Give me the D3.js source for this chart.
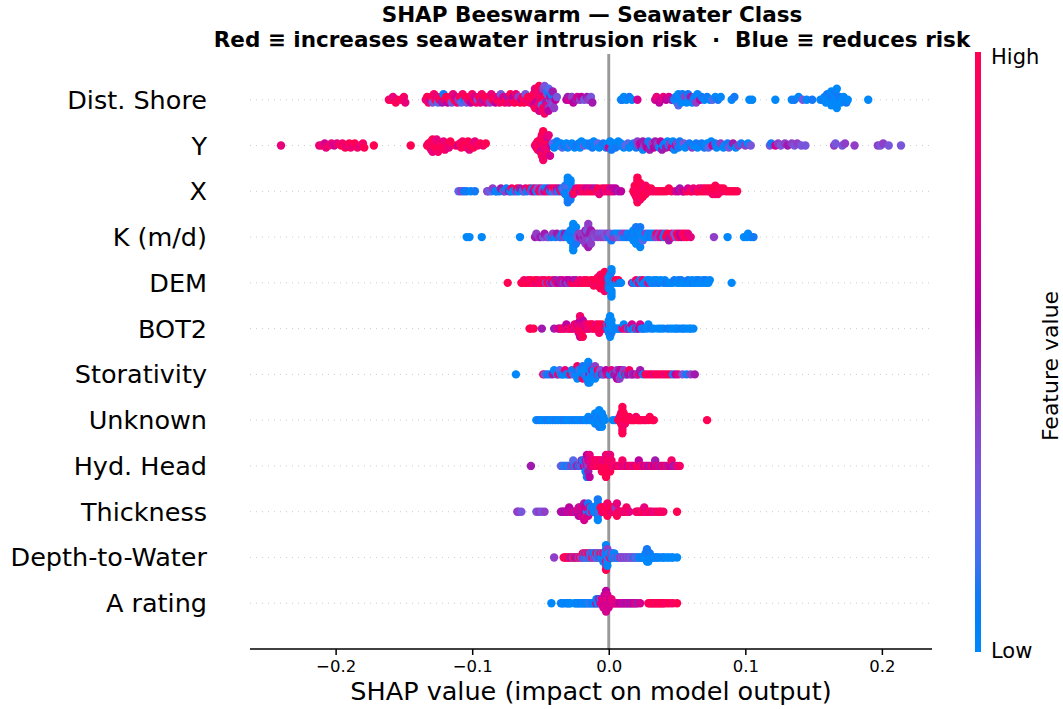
<!DOCTYPE html>
<html>
<head>
<meta charset="utf-8">
<script src="https://cdn.jsdelivr.net/npm/d3@7"></script>
<style>
  body { margin: 0; background: #fff; }
  text { font-family: "DejaVu Sans", sans-serif; fill: #000; }
</style>
</head>
<body>
<svg id="chart" width="1063" height="709"></svg>
<script>
// Feature names, top to bottom
const features = ["Dist. Shore", "Y", "X", "K (m/d)", "DEM", "BOT2", "Storativity",
  "Unknown", "Hyd. Head", "Thickness", "Depth-to-Water", "A rating"];

// Samples per feature: [SHAP value x 1000, feature level 0 (low) .. 10 (high)]
const distShore = [[-161,9],[-159,10],[-158,8],[-156,10],[-155,9],[-152,10],[-150,9],[-149,8],
  [-134,8],[-133,10],[-132,9],[-131,7],[-130,10],[-129,3],[-128,9],[-127,10],[-126,8],[-125,2],[-124,9],[-123,10],
  [-122,5],[-121,1],[-120,9],[-119,10],[-118,6],[-117,9],[-116,10],[-115,3],[-114,8],[-113,10],[-112,7],[-111,9],
  [-110,4],[-109,10],[-108,2],[-107,9],[-106,1],[-105,10],[-104,3],[-103,8],[-102,10],[-101,6],[-100,9],[-99,10],
  [-98,7],[-97,9],[-96,3],[-95,10],[-94,8],[-93,9],[-92,5],[-91,10],[-90,7],[-89,9],[-88,10],[-87,4],[-86,8],
  [-85,10],[-84,9],[-83,6],[-82,10],[-81,8],[-80,9],[-79,3],[-78,10],[-77,7],[-76,9],[-75,10],[-74,5],[-73,8],
  [-72,10],[-71,9],[-70,6],[-69,10],[-68,8],[-67,9],[-66,4],[-65,10],[-64,7],[-63,9],[-62,10],[-61,3],[-60,8],
  [-59,10],[-58,9],[-57,10],
  [-56,10],[-56,9],[-55,10],[-55,7],[-54,9],[-54,10],[-54,8],[-53,10],[-53,9],[-53,6],[-52,10],[-52,8],[-52,9],
  [-51,10],[-51,9],[-51,7],[-51,10],[-50,10],[-50,8],[-50,9],[-49,10],[-49,2],[-49,8],[-48,10],[-48,4],[-48,9],
  [-47,3],[-47,9],[-46,2],[-46,10],[-46,5],[-45,3],[-45,8],[-45,1],[-44,4],[-44,2],[-44,6],[-43,3],[-43,5],
  [-42,4],[-42,1],[-41,3],[-41,5],[-40,4],[-39,6],[-38,3],
  [-31,6],[-30,5],[-29,7],[-27,4],[-26,6],[-24,5],[-23,7],[-21,4],[-20,6],[-18,3],[-16,5],[-15,4],[-13,3],[-12,5],
  [9,0],[10,1],[11,0],[13,0],[15,1],[17,0],[21,7],
  [34,7],[35,8],[37,6],[38,7],[40,8],[42,6],[44,7],[46,5],
  [48,0],[49,1],[50,0],[51,0],[51,2],[52,1],[53,0],[53,0],[54,1],[55,0],[56,4],[57,0],[58,1],[59,0],[60,5],[61,0],
  [62,1],[63,0],[64,4],[65,0],[67,6],[68,1],[70,0],[72,1],[74,0],[76,2],[78,0],[80,1],[82,0],
  [90,0],[92,1],[103,0],[105,0],[122,0],[134,0],[136,1],[139,0],[142,3],[145,0],[149,1],
  [155,0],[157,1],[158,0],[159,0],[160,1],[161,0],[161,0],[162,0],[162,1],[163,0],[163,0],[164,0],[164,1],[165,0],
  [165,0],[166,0],[166,1],[167,0],[167,0],[168,0],[169,1],[170,0],[171,0],[172,0],[174,1],[175,0],[190,0]];

const coordY = [[-240,8],
  [-212,8],[-210,9],[-208,7],[-207,8],[-205,9],[-203,8],[-201,7],[-199,8],
  [-196,10],[-195,9],[-193,10],[-192,8],[-190,10],[-189,9],[-187,8],[-186,10],[-184,9],[-182,8],[-180,9],[-179,10],
  [-172,10],[-145,10],
  [-133,10],[-132,9],[-131,10],[-130,10],[-130,9],[-129,10],[-129,8],[-128,10],[-128,9],[-127,10],[-127,9],
  [-126,10],[-126,8],[-125,9],[-124,10],[-123,9],[-122,10],[-121,8],[-120,9],[-119,10],[-118,9],[-117,8],[-116,10],
  [-112,10],[-110,6],[-109,9],[-108,10],[-107,9],[-106,10],[-105,10],[-104,9],[-103,10],[-102,8],[-101,10],
  [-100,9],[-99,10],[-98,8],[-96,9],[-94,10],[-92,9],[-90,10],
  [-54,9],[-53,10],[-53,8],[-52,9],[-52,10],[-51,8],[-51,9],[-51,10],[-50,8],[-50,9],[-50,10],[-50,7],[-49,10],
  [-49,8],[-49,9],[-49,10],[-48,9],[-48,8],[-48,10],[-48,9],[-47,9],[-47,10],[-47,8],[-47,9],[-46,9],[-46,10],
  [-46,8],[-45,7],[-45,9],[-44,8],[-43,7],[-42,6],
  [-41,2],[-40,0],[-38,1],[-37,0],[-35,0],[-34,2],[-33,1],[-31,0],[-30,0],[-28,2],[-27,0],[-25,0],[-24,1],[-22,1],
  [-21,0],[-20,0],[-18,3],[-17,0],[-15,0],[-14,1],[-12,1],[-11,0],[-10,0],[-8,2],[-7,0],[-5,0],[-4,1],[-2,1],
  [-1,0],[0,0],[0,7],[1,0],[2,1],[3,0],
  [4,0],[5,1],[7,0],[8,1],[9,0],[11,0],[12,2],[14,2],[15,0],[17,0],[18,1],[20,1],[21,4],[22,4],[23,6],[24,6],
  [25,5],[25,0],[26,4],[27,5],[28,6],[29,1],[30,5],[31,0],[32,4],[33,6],[34,5],[35,5],[36,4],[37,0],[38,6],[39,5],
  [40,0],[41,1],[42,5],[43,0],[44,1],[45,4],[46,7],[47,0],[48,0],[49,5],[50,4],[51,1],[52,1],[54,0],[55,3],[56,0],
  [58,0],[59,1],[61,4],[62,0],[64,1],[65,0],[67,0],[68,1],[70,1],[71,0],[72,0],[73,2],[75,0],[76,7],[78,1],[79,0],
  [81,0],[82,4],[84,0],[85,0],[87,1],[88,3],[90,0],[91,5],[93,0],[95,4],[97,1],[100,4],[102,0],[104,3],
  [118,3],[119,1],[122,7],[124,4],[126,3],[129,4],[131,5],[134,4],[136,3],[138,4],[141,3],[144,3],
  [165,4],[166,3],[171,3],[173,4],[180,4],[197,4],[199,3],[201,4],[205,3],[214,3]];

const coordX = [[-110,2],[-108,4],[-106,1],[-104,1],[-101,0],[-98,1],
  [-89,4],[-88,3],[-86,2],[-85,4],[-83,1],[-82,0],[-80,1],[-79,5],[-77,0],[-76,4],[-75,1],[-73,5],[-72,0],[-71,9],
  [-70,0],[-68,4],[-67,10],[-66,0],[-65,5],[-63,0],[-62,3],[-61,8],[-60,1],[-58,10],[-57,4],[-56,1],[-55,6],[-54,9],
  [-53,0],[-52,3],[-51,10],[-50,8],[-49,4],[-48,2],[-47,7],[-46,0],[-45,9],[-44,5],[-43,1],[-42,8],[-41,2],[-40,10],
  [-39,4],[-38,7],[-37,1],[-36,5],[-35,9],
  [-34,1],[-33,0],[-33,2],[-32,1],[-32,0],[-31,0],[-31,1],[-31,0],[-31,2],[-30,0],[-30,1],[-30,0],[-30,0],[-30,1],
  [-30,0],[-29,1],[-29,0],[-29,0],[-29,2],[-29,0],[-28,0],[-28,1],[-28,0],[-27,2],[-27,0],
  [-26,8],[-25,10],[-24,7],[-23,10],[-22,9],[-21,7],[-20,10],[-19,9],[-18,8],[-17,10],[-16,6],[-15,9],[-14,8],
  [-13,10],[-12,7],[-11,10],[-10,5],[-9,9],[-8,10],[-7,8],[-6,9],[-5,10],[-4,7],[-3,8],[-2,9],[-1,10],[0,8],[1,7],
  [2,9],[3,6],[4,7],[5,6],[7,5],[9,6],
  [18,10],[19,10],[19,9],[19,10],[20,10],[20,9],[20,10],[20,10],[20,9],[21,10],[21,10],[21,9],[21,10],[21,10],
  [22,10],[22,9],[22,10],[22,10],[23,10],[23,10],[23,9],[24,10],[24,10],[24,9],[25,10],[25,10],[26,10],[26,9],
  [27,10],[27,9],[28,10],[29,10],[30,9],[31,10],[32,10],[34,9],[36,10],[38,10],[40,10],[42,10],[44,10],[46,10],
  [49,7],[51,6],[52,5],[54,8],[55,6],[57,10],[58,7],[60,9],[61,10],[62,8],[64,7],[65,10],[66,9],[67,10],[68,8],
  [69,10],[70,9],[71,10],[72,10],[73,9],[74,10],[75,10],[76,10],[76,9],[77,10],[77,10],[78,9],[78,10],[79,10],
  [80,10],[80,9],[81,10],[82,10],[83,9],[84,10],[86,10],[88,10],[90,10],[92,10],[94,10]];

const conductivity = [[-104,0],[-102,0],[-93,0],[-65,0],
  [-54,5],[-53,4],[-51,4],[-50,5],[-48,3],[-47,5],[-45,4],[-44,3],[-42,1],[-41,4],[-39,0],[-38,5],[-36,4],[-35,1],
  [-34,0],[-33,4],[-32,5],[-31,0],[-30,1],
  [-29,0],[-28,1],[-28,0],[-28,0],[-27,0],[-27,1],[-27,0],[-27,0],[-26,0],[-26,1],[-26,0],[-26,0],[-26,0],[-25,0],
  [-25,1],[-25,0],[-25,0],[-24,1],[-24,0],[-23,3],
  [-22,4],[-21,5],[-20,4],[-19,4],[-18,5],[-18,4],[-17,4],[-17,5],[-17,4],[-16,4],[-16,5],[-16,4],[-16,3],[-15,4],
  [-15,3],[-15,5],[-15,4],[-14,4],[-14,5],[-14,3],[-13,5],[-13,4],[-12,4],[-11,4],[-10,3],[-9,4],[-8,4],[-7,3],
  [-6,4],[-5,3],[-4,4],[-3,3],[-2,3],[-1,4],[0,1],
  [1,3],[2,1],[3,4],[4,1],[5,4],[6,0],[7,3],[8,0],[9,2],[10,4],[11,0],[12,4],[13,1],[14,0],[15,1],[16,0],[17,0],
  [17,1],[18,0],[18,0],[19,1],[19,0],[19,0],[20,0],[20,0],[20,1],[21,0],[21,1],[21,0],[22,0],[22,0],[23,1],[23,0],
  [24,0],[24,0],[25,2],[26,0],[27,4],[28,0],[29,0],[30,1],[31,1],[32,0],[33,0],[34,4],[35,9],[36,4],[37,4],[38,8],
  [39,8],[40,1],[41,1],[42,10],[43,10],[44,5],[45,5],[46,9],[47,9],[48,3],[49,3],[50,10],[51,10],[52,6],[53,6],
  [54,9],[55,9],[56,10],[57,10],[58,8],[60,8],
  [77,4],[87,0],[99,0],[101,0],[102,0],[104,0],[106,1]];

const dem = [[-74,10],
  [-64,10],[-63,10],[-62,9],[-61,10],[-60,10],[-59,9],[-58,10],[-57,10],[-56,9],[-55,10],[-54,10],[-53,8],[-52,10],
  [-51,10],[-50,9],[-49,8],[-48,10],[-47,10],[-46,3],[-45,10],[-44,9],[-43,4],[-42,5],[-41,10],[-40,4],[-39,5],
  [-38,10],[-37,6],[-36,5],[-35,5],[-34,7],[-33,4],[-32,5],[-31,6],[-30,4],[-29,6],[-28,5],[-27,10],[-26,6],
  [-25,10],[-24,5],[-23,8],[-22,10],[-21,9],[-20,8],[-19,10],[-18,9],[-17,10],[-16,10],[-15,9],[-14,10],[-13,10],
  [-12,9],[-11,10],[-11,10],[-10,9],[-10,10],[-9,10],[-9,10],[-8,9],[-8,10],[-7,10],[-7,10],[-7,9],[-6,10],
  [-6,10],[-6,9],[-5,10],[-5,10],[-5,10],[-5,9],[-4,9],[-4,10],[-4,10],[-4,10],[-3,10],[-3,10],[-3,9],[-3,10],
  [-2,10],[-2,9],[-2,10],[-1,10],
  [0,0],[0,1],[0,0],[0,0],[1,0],[1,0],[1,1],[1,0],[1,0],[1,0],[2,0],[2,1],[2,0],[2,0],[2,0],[3,0],[3,1],
  [4,0],[5,10],[6,0],[7,10],[8,1],[9,0],
  [17,8],[18,0],[19,1],[20,9],[21,0],[22,8],[23,1],[24,0],[25,9],[26,0],[27,1],[28,0],[29,8],[30,0],[31,1],[32,0],
  [33,0],[34,1],[35,0],[36,0],[37,1],[38,0],[40,0],[41,0],[42,1],[44,0],[45,0],[47,0],[48,1],[50,0],[51,0],[52,0],
  [53,1],[54,0],[55,0],[57,0],[58,1],[59,0],[60,0],[61,0],[62,1],[63,0],[64,0],[65,0],[66,1],[67,0],[68,0],[69,0],
  [70,0],[71,1],[72,0],[73,0],[74,0],[90,0]];

const bot2 = [[-58,10],[-57,10],[-55,10],[-49,5],[-40,5],
  [-37,8],[-36,6],[-35,7],[-34,10],[-33,9],[-32,8],[-31,6],[-30,10],[-29,7],[-28,9],[-27,10],[-26,8],[-25,7],
  [-24,9],[-24,10],[-23,8],[-23,6],[-22,10],[-22,9],[-22,7],[-21,9],[-21,8],[-21,10],[-21,6],[-21,7],[-21,9],
  [-20,10],[-20,8],[-20,9],[-19,6],[-19,10],[-18,10],[-18,7],[-17,9],[-17,8],[-16,7],[-15,10],[-15,9],[-14,8],
  [-13,10],[-12,9],[-12,10],[-11,9],[-10,10],[-9,10],[-9,8],[-8,10],[-7,10],[-7,9],[-6,10],[-5,9],[-5,10],
  [-4,10],[-3,9],
  [-1,1],[-1,0],[0,0],[0,8],[0,0],[0,1],[1,0],[1,0],[1,1],[1,0],[1,0],[1,0],[2,0],[2,0],[2,1],[2,0],[3,0],
  [5,0],[6,1],[7,0],[8,1],[9,0],[10,8],[11,0],[12,9],[13,8],[14,1],[15,7],[16,0],[17,7],[18,1],[19,0],[20,9],
  [21,0],[22,6],[23,7],[24,1],[25,0],[26,1],[28,0],[29,0],[31,1],[33,0],[36,0],[38,0],[40,0],[43,1],[45,0],[47,0],
  [49,0],[50,0],[52,0],[54,1],[55,0],[57,0],[59,0],[60,0],[62,0]];

const storativity = [[-68,0],
  [-48,10],[-47,3],[-45,1],[-43,1],[-41,5],[-40,0],[-38,0],[-37,9],[-36,2],[-35,0],[-34,1],[-33,0],[-32,8],
  [-31,0],[-30,1],[-29,0],[-28,9],[-27,1],[-26,0],[-25,3],[-24,0],[-24,1],[-23,0],[-23,9],[-22,0],[-22,1],
  [-21,0],[-21,2],[-20,0],[-20,0],[-19,9],[-19,1],[-18,0],[-18,0],[-17,1],[-17,0],[-16,2],[-16,0],[-16,0],
  [-15,0],[-15,1],[-15,0],[-14,6],[-14,0],[-14,0],[-14,1],[-14,0],[-13,0],[-13,1],[-13,0],[-12,0],[-12,5],
  [-11,1],[-11,0],[-10,0],[-10,4],[-9,1],[-9,0],[-8,4],[-8,9],[-7,0],[-6,3],[-5,5],[-4,1],[-3,4],[-2,6],[-1,9],
  [0,5],[1,1],[2,8],[3,1],[4,5],[5,5],[6,4],[6,6],[7,5],[7,4],[7,6],[8,6],[8,5],[8,4],[9,4],[9,6],[10,0],[11,4],
  [12,9],[13,1],[14,5],[15,9],[16,6],[17,4],[18,5],[20,6],[21,4],[22,8],[23,5],[25,1],[27,10],[29,9],[31,10],
  [33,8],[35,10],[37,9],[39,10],[41,8],[43,10],[45,9],[47,1],[49,6],[51,8],[54,3],[57,1],[60,4],[63,5]];

const unknown = [[-53,0],[-51,1],[-49,0],[-47,0],[-45,1],[-43,0],[-41,0],[-39,1],[-37,0],[-35,0],[-33,1],[-31,0],
  [-29,0],[-27,0],[-25,1],[-23,0],[-21,0],[-19,1],[-17,0],[-16,0],[-15,0],[-14,1],[-13,0],[-12,0],[-11,0],[-11,1],
  [-10,0],[-10,0],[-9,0],[-9,1],[-8,0],[-8,0],[-8,0],[-7,1],[-7,0],[-7,0],[-7,0],[-7,1],[-7,0],[-6,0],[-6,1],
  [-6,0],[-5,0],[-5,0],[-4,1],[-4,0],[-3,0],[3,0],[5,0],
  [7,10],[8,10],[8,9],[9,10],[9,10],[9,10],[9,9],[10,10],[10,10],[10,9],[10,10],[10,10],[11,10],[11,10],[11,9],
  [11,10],[12,10],[12,10],[12,9],[13,10],[13,10],[14,10],[15,10],[16,9],[17,10],[18,10],[19,10],[20,9],[21,10],
  [22,10],[23,10],[24,10],[26,10],[27,9],[29,10],[30,10],[32,10],[33,10],[72,10]];

const hydHead = [[-57,5],
  [-35,2],[-34,3],[-33,0],[-32,2],[-31,1],[-30,0],[-29,3],[-28,1],[-27,4],[-26,2],[-25,0],[-24,4],[-23,5],[-22,1],
  [-21,4],[-20,0],[-20,5],[-19,4],[-19,1],[-18,6],[-18,0],[-17,4],[-17,5],[-17,1],[-16,5],[-16,4],[-16,0],[-16,6],
  [-16,1],[-15,4],[-15,7],[-15,5],[-14,8],[-14,6],[-13,9],[-13,7],[-12,7],[-12,9],[-11,10],[-11,8],[-10,8],[-10,9],
  [-9,9],[-9,10],[-8,10],[-8,8],[-7,10],[-7,9],[-6,9],[-6,10],[-5,10],[-5,8],[-5,10],[-4,10],[-4,9],[-4,10],
  [-3,10],[-3,8],[-3,10],[-2,8],[-2,10],[-1,10],[-1,9],
  [0,10],[0,9],[0,10],[0,10],[1,10],[1,9],[1,10],[1,8],[2,10],[2,9],[3,8],[4,9],[5,10],[6,7],[7,9],[8,10],[9,8],
  [10,9],[11,7],[12,10],[13,8],[14,6],[15,9],[16,10],[17,8],[18,9],[19,7],[20,8],[21,10],[22,6],[23,9],[24,8],
  [25,10],[26,6],[27,7],[28,9],[29,6],[30,5],[31,7],[32,10],[33,6],[34,5],[35,9],[36,6],[37,8],[38,5],[39,7],
  [40,9],[41,6],[42,10],[43,5],[44,8],[45,6],[46,9],[47,7],[48,5],[50,8],[52,9]];

const thickness = [[-67,4],[-66,4],[-64,3],[-53,3],[-51,4],[-49,3],[-47,4],
  [-35,5],[-34,6],[-33,5],[-32,6],[-31,5],[-30,7],[-29,6],[-28,5],[-27,7],[-26,6],[-25,8],[-24,5],[-23,7],[-22,8],
  [-22,6],[-21,7],[-21,5],[-20,7],[-20,8],[-20,6],[-19,5],[-19,7],[-19,8],[-18,7],[-18,8],[-18,6],[-18,5],[-18,7],
  [-17,7],[-17,6],[-17,8],[-16,0],[-16,7],[-15,7],[-15,1],[-14,1],[-14,8],[-13,3],[-13,0],[-12,8],[-12,1],[-11,0],
  [-11,1],[-10,1],[-10,0],[-9,0],[-9,1],[-8,1],[-8,0],[-8,0],[-8,1],[-7,3],[-7,0],[-6,0],[-6,9],[-5,9],[-5,10],
  [-4,8],[-4,10],[-3,10],[-3,9],[-2,9],[-2,10],[-1,10],[-1,9],
  [0,10],[1,10],[1,9],[2,8],[2,10],[3,9],[3,10],[4,8],[4,10],[5,9],[5,4],[6,10],[6,8],[7,9],[8,10],[9,8],[10,9],
  [11,10],[12,8],[13,9],[14,10],[15,8],
  [20,8],[21,9],[22,10],[23,8],[24,9],[25,10],[26,8],[27,9],[28,8],[30,10],[31,9],[33,8],[35,9],[37,8],[38,10],
  [40,9],[50,10]];

const depthToWater = [[-40,4],
  [-33,10],[-32,9],[-31,10],[-30,9],[-29,10],[-28,5],[-27,9],[-26,4],[-25,10],[-24,5],[-23,9],[-22,4],[-21,10],
  [-20,3],[-19,4],[-19,10],[-18,1],[-18,4],[-17,3],[-17,10],[-16,0],[-16,4],[-15,3],[-15,10],[-14,1],[-14,4],
  [-13,3],[-13,0],[-12,10],[-12,4],[-11,3],[-11,1],[-10,4],[-10,0],[-9,2],[-9,10],[-8,0],[-8,3],[-7,4],[-7,0],
  [-6,1],[-6,10],[-5,0],[-5,3],[-4,0],[-4,9],[-4,1],[-3,0],[-3,4],[-3,0],[-2,1],[-2,0],[-2,9],[-2,0],[-2,4],
  [-2,0],[-2,10],[-1,0],[-1,1],[-1,0],[-1,4],[-1,0],[0,3],[0,0],[1,9],[1,0],[2,1],[2,4],[3,0],[3,3],[4,1],[4,0],
  [5,3],[6,1],[7,0],[8,4],[9,4],[10,3],[11,4],[12,3],[13,4],[14,3],[15,4],[16,2],[17,3],[18,4],[19,0],[20,2],
  [21,3],[22,0],[23,0],[24,1],[25,0],[26,0],[27,0],[27,1],[28,0],[28,0],[28,0],[28,1],[29,0],[29,1],[29,0],[30,0],
  [30,1],[31,0],[32,0],[33,1],[34,0],[35,0],[36,1],[37,0],[39,0],[40,1],[41,0],[43,0],[44,0],[46,0],[47,0],[50,0]];

const aRating = [[-42,0],[-35,0],[-34,1],[-33,0],[-31,0],[-30,1],[-29,0],[-28,0],
  [-25,0],[-24,0],[-23,1],[-22,0],[-21,0],[-20,1],[-19,0],[-18,0],[-17,1],[-16,0],[-15,0],[-14,2],[-13,0],[-12,1],
  [-11,0],[-10,1],[-9,7],[-9,0],[-8,0],[-8,1],[-7,0],[-7,7],[-6,7],[-6,1],[-5,8],[-5,7],[-4,7],[-4,8],[-4,7],
  [-3,7],[-3,8],[-3,7],[-3,6],[-2,7],[-2,7],[-2,8],[-2,7],[-2,7],[-2,6],[-1,7],[-1,8],[-1,7],[-1,7],[0,7],[0,8],
  [0,7],[1,7],[1,6],[2,7],[2,8],[3,7],[4,8],[5,7],[6,8],[7,7],[8,6],[9,6],[10,7],[11,6],[12,5],[13,6],[14,7],
  [15,5],[16,6],[17,5],[18,6],[19,7],[20,8],[21,5],[23,7],
  [29,10],[30,9],[31,10],[32,9],[33,10],[34,10],[35,9],[36,10],[37,10],[38,9],[39,10],[40,10],[41,9],[43,10],
  [45,10],[47,9],[50,10]];

const rows = [distShore, coordY, coordX, conductivity, dem, bot2, storativity,
  unknown, hydHead, thickness, depthToWater, aRating];

const xTicks = [-0.2, -0.1, 0.0, 0.1, 0.2];
const titleLines = ["SHAP Beeswarm \u2014 Seawater Class",
  "Red \u2261 increases seawater intrusion risk  \u00b7  Blue \u2261 reduces risk"];

// ---- layout ----
const plot = { left: 250, right: 932, top: 54, bottom: 649 };
const svg = d3.select("#chart");

// red-blue feature colormap (LCh interpolation, lightness dips mid-way)
function featureColor(t) {
  const L = t < 0.5 ? 54 + (40 - 54) * (t / 0.5) : 40 + (54 - 40) * ((t - 0.5) / 0.5);
  const C = 70 + (90 - 70) * t;
  const h = 266.93 + (380.32 - 266.93) * t;
  return d3.hcl(h % 360, C, L).formatHex();
}

const allVals = rows.flat().map(d => d[0] / 1000);
const [vmin, vmax] = d3.extent(allVals);
const pad = (vmax - vmin) * 0.05;
const x = d3.scaleLinear().domain([vmin - pad, vmax + pad]).range([plot.left, plot.right]);

const N = features.length;
// rows placed at integer positions, bottom feature at 0
const y = d3.scaleLinear().domain([-1, N]).range([plot.bottom, plot.top]);
const rowPos = i => N - 1 - i;

// row guide lines
svg.append("g").selectAll("line").data(features).join("line")
  .attr("x1", plot.left).attr("x2", plot.right)
  .attr("y1", (d, i) => y(rowPos(i))).attr("y2", (d, i) => y(rowPos(i)))
  .attr("stroke", "#cccccc").attr("stroke-width", 1).attr("stroke-dasharray", "1,5");

// zero line
svg.append("line")
  .attr("x1", x(0)).attr("x2", x(0)).attr("y1", plot.top).attr("y2", plot.bottom)
  .attr("stroke", "#999999").attr("stroke-width", 2.9);

// beeswarm offsets: bin along x, stack alternately above/below
function swarmOffsets(vals) {
  const n = vals.length, mn = d3.min(vals), mx = d3.max(vals);
  const nbins = 100;
  const quant = vals.map(v => Math.round(nbins * (v - mn) / (mx - mn + 1e-8)));
  const order = d3.range(n).sort((a, b) => quant[a] - quant[b] || a - b);
  const ys = new Array(n).fill(0);
  let layer = 0, last = -1;
  for (const i of order) {
    if (quant[i] !== last) layer = 0;
    ys[i] = Math.ceil(layer / 2) * ((layer % 2) * 2 - 1);
    layer += 1;
    last = quant[i];
  }
  const m = d3.max(ys, v => v + 1);
  return ys.map(v => v * 0.9 * (0.4 / m));
}

const dots = svg.append("g");
rows.forEach((row, i) => {
  const vals = row.map(d => d[0] / 1000);
  const offs = swarmOffsets(vals);
  const pts = row.map((d, j) => ({ v: vals[j], c: d[1] / 10, o: offs[j] }));
  dots.append("g").selectAll("circle").data(pts).join("circle")
    .attr("cx", d => x(d.v))
    .attr("cy", d => y(rowPos(i) + d.o))
    .attr("r", 4.2)
    .attr("fill", d => featureColor(d.c));
});

// feature labels
svg.append("g").selectAll("text").data(features).join("text")
  .attr("x", 207).attr("y", (d, i) => y(rowPos(i)))
  .attr("text-anchor", "end").attr("dominant-baseline", "central")
  .style("font-size", "25.5px").text(d => d);

// x axis
const xAxis = d3.axisBottom(x).tickValues(xTicks).tickSize(6).tickPadding(5)
  .tickFormat(d => d3.format(".1f")(d).replace("-", "\u2212"));
const gx = svg.append("g").attr("transform", `translate(0,${plot.bottom})`).call(xAxis);
gx.select(".domain").attr("stroke", "#000").attr("stroke-width", 1.5)
  .attr("d", `M${plot.left},0H${plot.right}`);
gx.selectAll(".tick line").attr("stroke", "#000").attr("stroke-width", 1.5);
gx.selectAll(".tick text").style("font-family", "DejaVu Sans").style("font-size", "16.5px").attr("fill", "#000");

svg.append("text").attr("x", 591).attr("y", 700)
  .attr("text-anchor", "middle").style("font-size", "25.5px")
  .text("SHAP value (impact on model output)");

// title
svg.append("g").selectAll("text").data(titleLines).join("text")
  .attr("x", 592).attr("y", (d, i) => 21.5 + i * 25.5)
  .attr("text-anchor", "middle").style("font-size", "21.5px").style("font-weight", "bold")
  .style("white-space", "pre")
  .text(d => d);

// colorbar
const cb = { x: 975, w: 6, top: 52, bottom: 652 };
const defs = svg.append("defs");
const grad = defs.append("linearGradient").attr("id", "fvgrad")
  .attr("x1", 0).attr("y1", 1).attr("x2", 0).attr("y2", 0);
d3.range(0, 1.0001, 0.05).forEach(t => {
  grad.append("stop").attr("offset", t).attr("stop-color", featureColor(t));
});
svg.append("rect").attr("x", cb.x).attr("y", cb.top).attr("width", cb.w)
  .attr("height", cb.bottom - cb.top).attr("fill", "url(#fvgrad)");
svg.append("text").attr("x", cb.x + cb.w + 10).attr("y", cb.top + 5)
  .attr("dominant-baseline", "central").style("font-size", "21px").text("High");
svg.append("text").attr("x", cb.x + cb.w + 10).attr("y", cb.bottom - 1)
  .attr("dominant-baseline", "central").style("font-size", "21px").text("Low");
svg.append("text")
  .attr("transform", `translate(1050,366) rotate(-90)`)
  .attr("text-anchor", "middle").attr("dominant-baseline", "central")
  .style("font-size", "22px").text("Feature value");
</script>
</body>
</html>
